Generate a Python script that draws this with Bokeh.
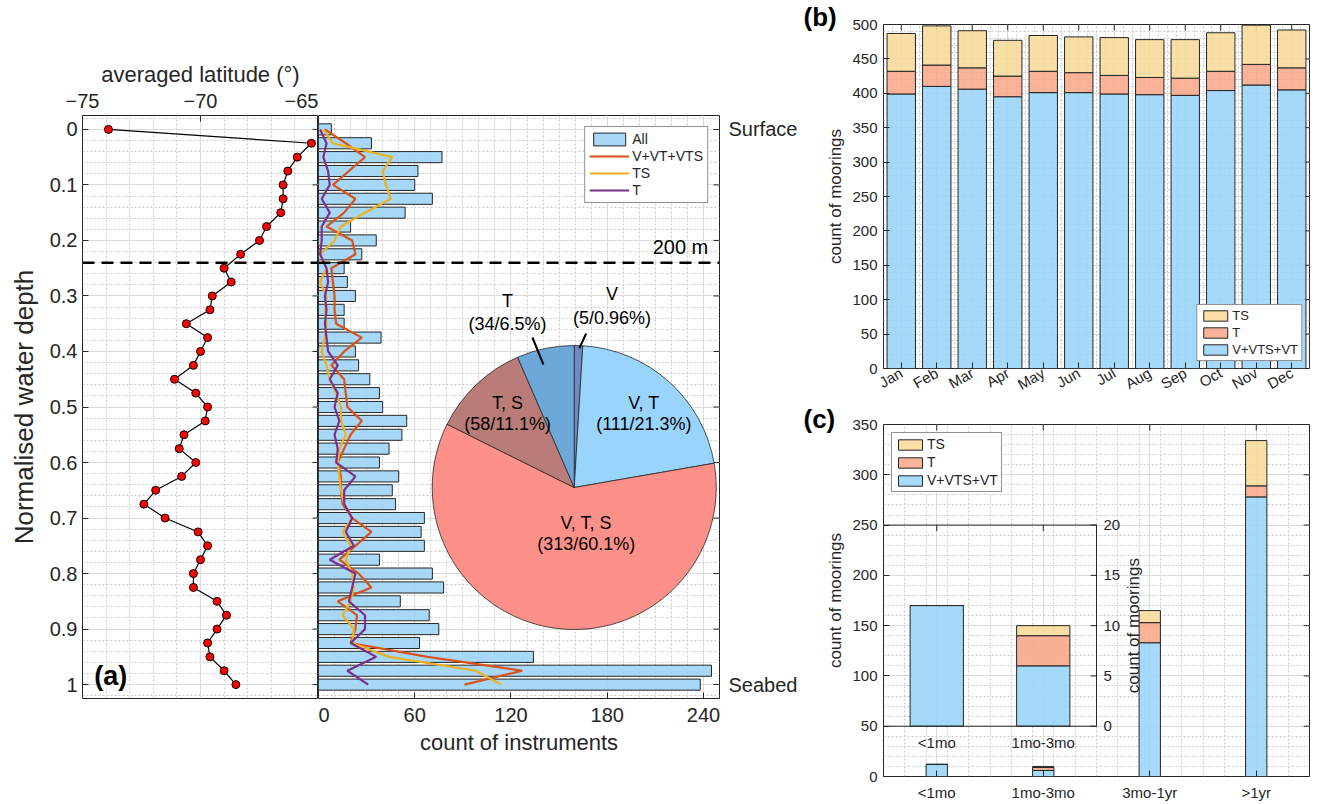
import numpy as np
from bokeh.plotting import figure
from bokeh.models import (Range1d, FixedTicker, Legend, LegendItem,
                          Label, Span, ColumnDataSource, BoxAnnotation)
from bokeh.layouts import row, column
from bokeh.embed import file_html
from bokeh.resources import INLINE
from bokeh.core.properties import value

FONT = "Liberation Sans"
AX = "#262626"
GRID = "#dcdcdc"
MINOR = "#cbcbcb"

# ---------------- panel (a) data ----------------
depth = [round(0.025 * i, 3) for i in range(41)]
lat = [-73.9, -65.3, -65.9, -66.3, -66.5, -66.5, -66.6, -67.2, -67.5, -68.3,
       -69.0, -68.7, -69.5, -69.6, -70.6, -69.7, -70.0, -70.3, -71.1, -70.2,
       -69.7, -69.8, -70.7, -70.9, -70.2, -70.8, -71.9, -72.4, -71.5, -70.1,
       -69.7, -70.0, -70.3, -70.3, -69.3, -68.9, -69.3, -69.7, -69.6, -69.0,
       -68.5]
n_all = [8, 33, 77, 62, 60, 71, 54, 20, 36, 27, 16, 18, 23, 16, 16, 39, 23, 25,
         32, 38, 40, 55, 52, 44, 38, 50, 46, 48, 66, 64, 66, 38, 71, 78, 51, 69,
         75, 63, 134, 245, 238]
n_vel = [4, 17, 29, 19, 9, 23, 16, 5, 21, 23, 8, 9, 10, 10, 11, 27, 16, 8, 16,
         17, 18, 27, 20, 16, 12, 14, 14, 15, 21, 33, 23, 13, 25, 33, 12, 24, 23,
         20, 68, 127, 91]
n_ts = [3, 9, 46, 40, 42, 45, 29, 14, 10, 1, 5, 1, 5, 4, 5, 4, 2, 5, 7, 11, 14,
        14, 17, 13, 12, 13, 14, 16, 21, 15, 20, 17, 21, 22, 20, 15, 22, 21, 44,
        98, 114]
n_t = [1, 5, 3, 6, 7, 2, 7, 2, 2, 1, 5, 6, 4, 5, 4, 5, 6, 12, 7, 12, 10, 13, 10,
       12, 11, 23, 16, 16, 21, 17, 22, 7, 23, 21, 19, 29, 29, 20, 36, 18, 31]
depth_200m = 0.24
depth_ticks = [round(0.1 * i, 1) for i in range(11)]
end_labels = ["Surface", "Seabed"]
lat_ticks = [-75, -70, -65]
count_ticks = [0, 60, 120, 180, 240]

pie_names = ["V", "V, T", "V, T, S", "T, S", "T"]
pie_counts = [5, 111, 313, 58, 34]
pie_pct = ["0.96", "21.3", "60.1", "11.1", "6.5"]

# ---------------- panel (b) data ----------------
months = ["Jan", "Feb", "Mar", "Apr", "May", "Jun", "Jul", "Aug", "Sep", "Oct", "Nov", "Dec"]
b_vel = [399, 410, 406, 395, 401, 401, 399, 398, 397, 404, 412, 405]
b_t = [33, 31, 31, 30, 31, 29, 27, 25, 25, 28, 30, 32]
b_ts = [55, 57, 54, 52, 52, 52, 55, 55, 56, 56, 57, 55]

# ---------------- panel (c) data ----------------
durations = ["<1mo", "1mo-3mo", "3mo-1yr", ">1yr"]
c_vel = [12, 6, 133, 278]
c_t = [0, 3, 20, 11]
c_ts = [0, 1, 12, 45]
inset_ticks = [0, 5, 10, 15, 20]

C_BAR = "#9dd4f6"
C_VEL = "#D95319"
C_TS = "#EDB120"
C_T = "#7E2F8E"
S_BLUE = "#9ad5fa"
S_T = "#f7a98a"
S_TS = "#f8da99"
PIE_COLORS = ["#6f8bbf", "#99d4fc", "#fe908a", "#ba7c78", "#6ca8d8"]


def style_axis(ax, fs, ls=None):
    ax.axis_line_color = None
    ax.major_tick_in = 6
    ax.major_tick_out = 0
    ax.minor_tick_in = 0
    ax.minor_tick_out = 0
    ax.major_tick_line_color = AX
    ax.major_label_text_font = FONT
    ax.major_label_text_font_size = f"{fs}px"
    ax.major_label_text_color = AX
    ax.axis_label_text_font = FONT
    ax.axis_label_text_font_style = "normal"
    ax.axis_label_text_color = AX
    if ls:
        ax.axis_label_text_font_size = f"{ls}px"


def style_fig(p):
    p.outline_line_color = AX
    p.outline_line_width = 1
    p.outline_line_alpha = 1
    p.background_fill_color = "white"
    p.border_fill_color = "white"
    for g in p.grid:
        g.grid_line_color = GRID
        g.grid_line_width = 1
        g.minor_grid_line_color = MINOR
        g.minor_grid_line_dash = "2 2"
        g.minor_grid_line_width = 1


def edge_ticks(p, xs, ys, angle, **kw):
    p.ray(x=xs, y=ys, length=6, length_units="screen", angle=angle,
          line_color=AX, line_width=1, **kw)


def panel_title(p, txt, standoff):
    p.title.text = txt
    p.title.align = "left"
    p.title.offset = -80
    p.title.standoff = standoff
    p.title.text_font = FONT
    p.title.text_font_size = "26px"
    p.title.text_font_style = "bold"
    p.title.text_color = "black"


# ======================= panel (a) left: latitude =======================
yr = Range1d(1.025, -0.025)
dtick = FixedTicker(ticks=depth_ticks, minor_ticks=[round(-0.02 + 0.02 * i, 2) for i in range(54)])
pa1 = figure(width=318, height=798, x_range=Range1d(-75, -65), y_range=yr,
             x_axis_location="above", output_backend="svg", toolbar_location=None,
             min_border_left=82, min_border_right=0, min_border_top=115, min_border_bottom=100)
latick = FixedTicker(ticks=lat_ticks, minor_ticks=list(range(-75, -64)))
pa1.xaxis.ticker = latick
pa1.xgrid.ticker = latick
pa1.yaxis.ticker = dtick
pa1.ygrid.ticker = dtick
style_fig(pa1)
style_axis(pa1.xaxis[0], 20, 22)
style_axis(pa1.yaxis[0], 20, 26)
pa1.xaxis.axis_label = "averaged latitude (°)"
pa1.yaxis.axis_label = "Normalised water depth"
pa1.yaxis.major_label_overrides = {t: f"{t:g}" for t in depth_ticks}
pa1.xaxis.major_label_standoff = 8
pa1.xaxis.axis_label_standoff = 4
pa1.yaxis.major_label_standoff = 5
pa1.yaxis.axis_label_standoff = 8
edge_ticks(pa1, [lat_ticks[-1]] * len(depth_ticks), depth_ticks, np.pi)

pa1.add_layout(Span(location=depth_200m, dimension="width", line_color="black",
                    line_width=2.5, line_dash="12 7"))
pa1.line(lat, depth, line_color="black", line_width=1.2)
pa1.scatter(lat, depth, size=8, fill_color="#ff0000", line_color="black", line_width=1)
pa1.add_layout(Label(x=-74.5, y=1.012, text="(a)", text_font=FONT, text_font_style="bold",
                     text_font_size="27px", text_baseline="bottom", text_color="black"))

# ======================= panel (a) right: counts + pie =======================
pa2 = figure(width=482, height=798, x_range=Range1d(0, 250), y_range=yr,
             y_axis_location="right", output_backend="svg", toolbar_location=None,
             min_border_left=0, min_border_right=79, min_border_top=115, min_border_bottom=100)
ctick = FixedTicker(ticks=count_ticks, minor_ticks=list(range(0, 251, 10)))
pa2.xaxis.ticker = ctick
pa2.xgrid.ticker = ctick
end_ticks = [depth_ticks[0], depth_ticks[-1]]
pa2.yaxis.ticker = FixedTicker(ticks=end_ticks)
pa2.ygrid.ticker = dtick
style_fig(pa2)
style_axis(pa2.xaxis[0], 20, 22)
style_axis(pa2.yaxis[0], 20)
pa2.xaxis.axis_label = "count of instruments"
pa2.xaxis.major_label_standoff = 9
pa2.xaxis.axis_label_standoff = 5
pa2.yaxis.major_label_overrides = {t: s for t, s in zip(end_ticks, end_labels)}
pa2.yaxis.major_label_standoff = 9
edge_ticks(pa2, [250] * (len(depth_ticks) - 2), depth_ticks[1:-1], np.pi)

pa2.add_layout(Span(location=depth_200m, dimension="width", line_color="black",
                    line_width=2.5, line_dash="12 7"))
rb = pa2.hbar(y=depth, left=0, right=n_all, height=0.02, fill_color=C_BAR, fill_alpha=0.9,
              line_color=AX, line_width=1)
r1 = pa2.line(n_vel, depth, line_color=C_VEL, line_width=2.2)
r2 = pa2.line(n_ts, depth, line_color=C_TS, line_width=2.2)
r3 = pa2.line(n_t, depth, line_color=C_T, line_width=2.2)
pa2.add_layout(Label(x=243, y=0.231, text="200 m", text_font=FONT, text_font_size="20px",
                     text_align="right", text_baseline="bottom", text_color="black"))

# pie in a pixel-like coordinate system inside the frame
pa2.extra_x_ranges = {"px": Range1d(0, 403)}
pa2.extra_y_ranges = {"py": Range1d(0, 583)}
cx, cy, rad = 257, 211, 142
cnt = np.array(pie_counts, dtype=float)
frac = cnt / cnt.sum()
ends = np.pi / 2 - 2 * np.pi * np.concatenate([[0.0], np.cumsum(frac)[:-1]])
starts = ends - 2 * np.pi * frac
pa2.wedge(x=cx, y=cy, radius=rad, radius_units="screen", start_angle=list(starts),
          end_angle=list(ends), direction="anticlock", fill_color=PIE_COLORS,
          line_color=AX, line_width=0.8, x_range_name="px", y_range_name="py")
lab_off = [(38, 194, 170), (70, 85, 64), (12, -35, -56), (-67, 85, 64), (-67, 187, 164)]
val_txt = [f"({c}/{p}%)" for c, p in zip(pie_counts, pie_pct)]
pa2.text(x=[cx + o[0] for o in lab_off], y=[cy + o[1] for o in lab_off], text=pie_names,
         text_font=value(FONT), text_font_size="18px", text_align="center",
         text_baseline="middle", text_color="black", x_range_name="px", y_range_name="py")
pa2.text(x=[cx + o[0] for o in lab_off], y=[cy + o[2] for o in lab_off], text=val_txt,
         text_font=value(FONT), text_font_size="18px", text_align="center",
         text_baseline="middle", text_color="black", x_range_name="px", y_range_name="py")
pa2.segment(x0=[215, 269], y0=[361, 365], x1=[226, 262], y1=[334, 350],
            line_color="black", line_width=2, x_range_name="px", y_range_name="py")

leg_a = Legend(items=[LegendItem(label="All", renderers=[rb]),
                      LegendItem(label="V+VT+VTS", renderers=[r1]),
                      LegendItem(label="TS", renderers=[r2]),
                      LegendItem(label="T", renderers=[r3])],
               location="top_right", margin=11, padding=4, spacing=1,
               glyph_width=40, glyph_height=16, label_standoff=3,
               label_text_font=FONT, label_text_font_size="14px", label_text_color=AX,
               border_line_color=AX, border_line_width=1, background_fill_alpha=1)
pa2.add_layout(leg_a)

# ======================= panel (b) =======================
pb = figure(width=536, height=403, x_range=Range1d(0.5, 12.5), y_range=Range1d(0, 500),
            output_backend="svg", toolbar_location=None,
            min_border_left=83, min_border_right=20, min_border_top=24, min_border_bottom=28)
mx = list(range(1, 13))
b_yt = list(range(0, 501, 50))
btx = FixedTicker(ticks=mx, minor_ticks=[0.5 + 0.25 * i for i in range(49)])
bty = FixedTicker(ticks=b_yt, minor_ticks=list(range(0, 501, 10)))
pb.xaxis.ticker = btx
pb.xgrid.ticker = btx
pb.yaxis.ticker = bty
pb.ygrid.ticker = bty
style_fig(pb)
style_axis(pb.xaxis[0], 15)
style_axis(pb.yaxis[0], 15, 17)
pb.xaxis.major_label_overrides = {i: m for i, m in zip(mx, months)}
pb.xaxis.major_label_orientation = 0.52
pb.xaxis.major_label_standoff = 3
pb.yaxis.axis_label = "count of moorings"
pb.yaxis.major_label_standoff = 6
pb.yaxis.axis_label_standoff = 4
panel_title(pb, "(b)", -14)
edge_ticks(pb, [12.5] * len(b_yt), b_yt, np.pi)
edge_ticks(pb, mx, [500] * len(mx), -np.pi / 2)
src_b = ColumnDataSource(dict(x=mx, vel=b_vel, t=b_t, ts=b_ts))
rs_b = pb.vbar_stack(["vel", "t", "ts"], x="x", width=0.8, source=src_b,
                     fill_color=[S_BLUE, S_T, S_TS], fill_alpha=0.88, line_color=AX, line_width=1)
leg_b = Legend(items=[LegendItem(label="TS", renderers=[rs_b[2]]),
                      LegendItem(label="T", renderers=[rs_b[1]]),
                      LegendItem(label="V+VTS+VT", renderers=[rs_b[0]])],
               location="bottom_right", margin=7, padding=3, spacing=2,
               glyph_width=30, glyph_height=13, label_standoff=2,
               label_text_font=FONT, label_text_font_size="13px", label_text_color=AX,
               border_line_color=AX, border_line_width=1, background_fill_alpha=1)
pb.add_layout(leg_b)

# ======================= panel (c) =======================
pc = figure(width=536, height=400, x_range=Range1d(0.5, 4.5), y_range=Range1d(0, 350),
            output_backend="svg", toolbar_location=None,
            min_border_left=83, min_border_right=27, min_border_top=21, min_border_bottom=24)
cx_pos = list(range(1, 5))
c_yt = list(range(0, 351, 50))
ctx = FixedTicker(ticks=cx_pos, minor_ticks=[0.5 + 0.2 * i for i in range(21)])
cty = FixedTicker(ticks=c_yt, minor_ticks=list(range(0, 351, 10)))
pc.xaxis.ticker = ctx
pc.xgrid.ticker = ctx
pc.yaxis.ticker = cty
pc.ygrid.ticker = cty
style_fig(pc)
style_axis(pc.xaxis[0], 15)
style_axis(pc.yaxis[0], 15, 17)
pc.xaxis.major_label_overrides = {i: d for i, d in zip(cx_pos, durations)}
pc.xaxis.major_label_standoff = 7
pc.yaxis.axis_label = "count of moorings"
pc.yaxis.major_label_standoff = 6
pc.yaxis.axis_label_standoff = 4
panel_title(pc, "(c)", -18)
edge_ticks(pc, [4.5] * len(c_yt), c_yt, np.pi)
edge_ticks(pc, cx_pos, [350] * len(cx_pos), -np.pi / 2)
src_c = ColumnDataSource(dict(x=cx_pos, vel=c_vel, t=c_t, ts=c_ts))
rs_c = pc.vbar_stack(["vel", "t", "ts"], x="x", width=0.2, source=src_c,
                     fill_color=[S_BLUE, S_T, S_TS], fill_alpha=0.88, line_color=AX, line_width=1)

# inset (same data, first two durations, zoomed scale)
pc.extra_y_ranges = {"inset": Range1d(-5, 30)}
src_i = ColumnDataSource(dict(x=cx_pos[:2], vel=c_vel[:2], t=c_t[:2], ts=c_ts[:2]))
pc.vbar_stack(["vel", "t", "ts"], x="x", width=0.5, source=src_i, y_range_name="inset",
              fill_color=[S_BLUE, S_T, S_TS], fill_alpha=0.9, line_color=AX, line_width=1)
pc.add_layout(BoxAnnotation(left=0.5, right=2.5, bottom=50, top=250, fill_alpha=0,
                            line_color=AX, line_width=1, line_alpha=1))
edge_ticks(pc, [2.5] * len(inset_ticks), inset_ticks, np.pi, y_range_name="inset")
edge_ticks(pc, cx_pos[:2], [inset_ticks[-1]] * 2, -np.pi / 2, y_range_name="inset")
pc.text(x=[2.5] * len(inset_ticks), y=inset_ticks, text=[str(t) for t in inset_ticks],
        x_offset=7, text_font=value(FONT), text_font_size="15px", text_align="left",
        text_baseline="middle", text_color=AX, y_range_name="inset")
pc.text(x=cx_pos[:2], y=[0, 0], text=durations[:2], y_offset=8, text_font=value(FONT),
        text_font_size="15px", text_align="center", text_baseline="top", text_color=AX,
        y_range_name="inset")
pc.text(x=[2.5], y=[10], text=["count of moorings"], x_offset=37, angle=np.pi / 2,
        text_font=value(FONT), text_font_size="17px", text_align="center",
        text_baseline="middle", text_color=AX, y_range_name="inset")

leg_c = Legend(items=[LegendItem(label="TS", renderers=[rs_c[2]]),
                      LegendItem(label="T", renderers=[rs_c[1]]),
                      LegendItem(label="V+VTS+VT", renderers=[rs_c[0]])],
               location="top_left", margin=8, padding=3, spacing=2,
               glyph_width=30, glyph_height=13, label_standoff=2,
               label_text_font=FONT, label_text_font_size="14px", label_text_color=AX,
               border_line_color=AX, border_line_width=1, background_fill_alpha=1)
pc.add_layout(leg_c)

layout = row(pa1, pa2, column(pb, pc))
html = file_html(layout, INLINE, "moorings")
html = html.replace("<head>", "<head><style>html,body{margin:0;padding:0;}</style>", 1)
open("out.html", "w").write(html)
